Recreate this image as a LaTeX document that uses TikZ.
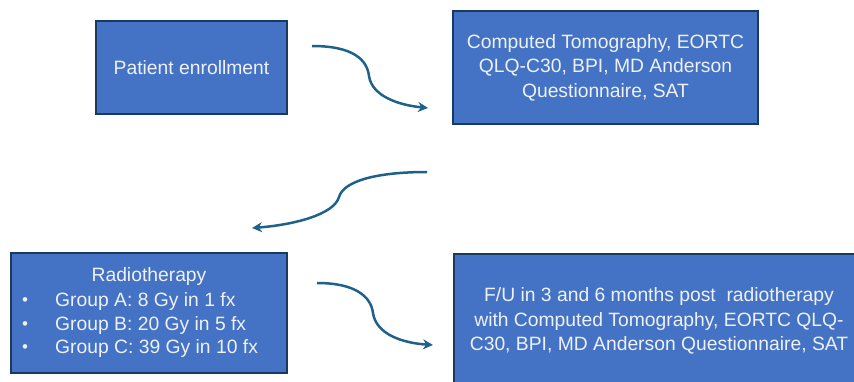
\documentclass[tikz,border=0pt]{standalone}
\usepackage{fontspec}
\setmainfont{Liberation Sans}
\usetikzlibrary{arrows.meta}
\definecolor{boxfill}{RGB}{68,114,196}
\definecolor{boxline}{RGB}{24,58,92}
\definecolor{flowline}{RGB}{30,98,138}
\definecolor{boxtext}{RGB}{238,241,247}
\tikzset{
  stagebox/.style={draw=boxline, line width=1.4pt, fill=boxfill, inner sep=0pt,
    text=boxtext, align=center, font=\fontsize{19.3}{24.5}\selectfont},
  boxlabel/.style={text=boxtext, inner sep=0pt, font=\fontsize{19.3}{24.5}\selectfont},
  flow/.style={draw=flowline, line width=2.5pt, -{Stealth[length=10pt,width=10pt]}}
}
\begin{document}
\begin{tikzpicture}[x=1pt,y=-1pt]
\useasboundingbox (0,0) rectangle (854,382);
\begin{scope}
\clip (0,0) rectangle (854,382);
% stage boxes
\node[stagebox, minimum width=191pt, minimum height=93pt] (enrol) at (191.5,67.5)
  {Patient enrollment};
\node[stagebox, minimum width=305pt, minimum height=113pt] (baseline) at (605.5,67.5)
  {Computed Tomography, EORTC\\QLQ-C30, BPI, MD Anderson\\Questionnaire, SAT};
\node[stagebox, minimum width=276pt, minimum height=120pt] (radio) at (149,313) {};
\node[stagebox, minimum width=410pt, minimum height=134pt] (follow) at (659,321)
  {F/U in 3 and 6 months post~ radiotherapy\\with Computed Tomography, EORTC QLQ-\\C30, BPI, MD Anderson Questionnaire, SAT};
\end{scope}
% radiotherapy box contents
\node[boxlabel] (rtitle) at (149,277) {Radiotherapy};
\foreach \y/\txt/\nm in {302/{Group A: 8 Gy in 1 fx}/ga, 326/{Group B: 20 Gy in 5 fx}/gb, 349/{Group C: 39 Gy in 10 fx}/gc}{
  \node[boxlabel] (\nm b) at (25,\y) {\fontsize{17}{17}\selectfont\textbullet};
  \node[boxlabel, anchor=west] (\nm) at (55,\y) {\txt};
}
% connector ends
\coordinate (a1s) at (312,46);
\coordinate (a1e) at (428,108);
\coordinate (a2s) at (427,172);
\coordinate (a2e) at (252,228);
\coordinate (a3s) at (317,283);
\coordinate (a3e) at (433,345);
% curved connectors
\draw[flow] (a1s) .. controls (352,46) and (367,59) .. (369,76)
  .. controls (372,96) and (398,105) .. (a1e);
\draw[flow] (a2s) .. controls (380,172) and (344,180) .. (339,197)
  .. controls (334,215) and (292,225) .. (a2e);
\draw[flow] (a3s) .. controls (356,283) and (371,297) .. (373,313)
  .. controls (376,334) and (402,343) .. (a3e);
\end{tikzpicture}
\end{document}
